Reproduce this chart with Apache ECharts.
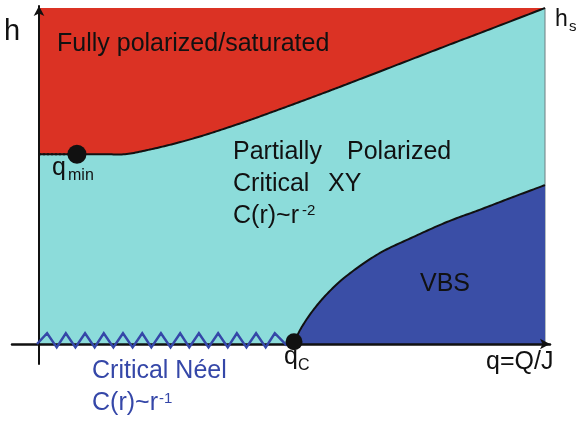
<!DOCTYPE html>
<html>
<head>
<meta charset="utf-8">
<script src="https://cdn.jsdelivr.net/npm/echarts@6/dist/echarts.min.js"></script>
<style>
  html, body { margin: 0; padding: 0; background: #fff; }
  #chart { width: 585px; height: 421px; }
</style>
</head>
<body>
<div id="chart"></div>
<script>
// Phase diagram in (q, h) units; h is scaled so that the saturation field h_s = 1.

// Saturation line separating fully polarized from partially polarized states
const saturationBoundary = [
  [0, 0.565], [0.121, 0.565], [0.170, 0.565], [0.2194, 0.5789], [0.2688, 0.5967],
  [0.3182, 0.6176], [0.3676, 0.6414], [0.4170, 0.6667], [0.4664, 0.6935],
  [0.5158, 0.7208], [0.5652, 0.7485], [0.6146, 0.7768], [0.6838, 0.8170],
  [0.7530, 0.8571], [0.8221, 0.8973], [0.8913, 0.9369], [1, 1]
];

// Boundary of the VBS phase, starting at q_c
const vbsBoundary = [
  [0.504, 0], [0.516, 0.042], [0.542, 0.101], [0.575, 0.158], [0.615, 0.211],
  [0.674, 0.271], [0.739, 0.318], [0.806, 0.363], [0.872, 0.400], [0.937, 0.4375],
  [1, 0.473]
];

// Special points
const qMinPoint = [0.075, 0.565];
const qCPoint = [0.504, 0.007];

// Critical Néel line along h = 0, drawn as a zigzag
const neelZigzag = [
  [-0.004, 0], [0.016, 0.032], [0.035, -0.010], [0.053, 0.032], [0.072, -0.010],
  [0.091, 0.032], [0.110, -0.010], [0.128, 0.032], [0.147, -0.010], [0.166, 0.032],
  [0.185, -0.010], [0.204, 0.032], [0.222, -0.010], [0.241, 0.032], [0.260, -0.010],
  [0.279, 0.032], [0.297, -0.010], [0.316, 0.032], [0.335, -0.010], [0.354, 0.032],
  [0.373, -0.010], [0.391, 0.032], [0.410, -0.010], [0.429, 0.032], [0.448, -0.010],
  [0.466, 0.032], [0.490, -0.005]
];

// Extent of the diagram
const qRange = [0, 1];
const hRange = [0, 1];

const COLORS = {
  partial: '#8CDCDA',
  saturated: '#DB3224',
  vbs: '#3A4EA6',
  neel: '#3547A8',
  ink: '#111111'
};
const FONT = '"Liberation Sans", Arial, sans-serif';

// Smooth pixel path through projected points (Catmull-Rom segments rendered as short chords)
function smoothPixels(pixels) {
  const out = [pixels[0]];
  const n = pixels.length;
  const STEPS = 14;
  for (let i = 0; i < n - 1; i++) {
    const p0 = pixels[Math.max(i - 1, 0)];
    const p1 = pixels[i];
    const p2 = pixels[i + 1];
    const p3 = pixels[Math.min(i + 2, n - 1)];
    const c1 = [p1[0] + (p2[0] - p0[0]) / 6, p1[1] + (p2[1] - p0[1]) / 6];
    const c2 = [p2[0] - (p3[0] - p1[0]) / 6, p2[1] - (p3[1] - p1[1]) / 6];
    for (let s = 1; s <= STEPS; s++) {
      const t = s / STEPS, u = 1 - t;
      const a = u * u * u, b = 3 * u * u * t, c = 3 * u * t * t, d = t * t * t;
      out.push([
        a * p1[0] + b * c1[0] + c * c2[0] + d * p2[0],
        a * p1[1] + b * c1[1] + c * c2[1] + d * p2[1]
      ]);
    }
  }
  return out;
}

// Region filled between a boundary curve and fixed corners, plus the curve stroke
function phaseSeries(name, curve, corners, fill, z) {
  return {
    type: 'custom',
    name: name,
    z: z,
    silent: true,
    data: [[0, 0]],
    renderItem: function (params, api) {
      const line = smoothPixels(curve.map(function (p) { return api.coord(p); }));
      const cornerPx = corners.map(function (p) { return api.coord(p); });
      return {
        type: 'group',
        children: [
          { type: 'polygon', shape: { points: line.concat(cornerPx) }, style: { fill: fill, stroke: null } },
          { type: 'polyline', z2: 5, shape: { points: line }, style: { fill: null, stroke: COLORS.ink, lineWidth: 2 } }
        ]
      };
    }
  };
}

const chart = echarts.init(document.getElementById('chart'), null, { renderer: 'canvas' });

const option = {
  animation: false,
  backgroundColor: '#ffffff',
  grid: { left: 12, right: 35, top: 6, bottom: 57, containLabel: false },
  xAxis: {
    type: 'value',
    min: -0.05336,
    max: 1.00988,
    z: 10,
    axisLine: {
      onZero: true,
      symbol: ['none', 'arrow'],
      symbolSize: [8, 10],
      lineStyle: { color: COLORS.ink, width: 2.5 }
    },
    axisTick: { show: false },
    axisLabel: { show: false },
    splitLine: { show: false }
  },
  yAxis: {
    type: 'value',
    min: -0.05952,
    max: 1.00595,
    z: 10,
    axisLine: {
      onZero: true,
      symbol: ['none', 'arrow'],
      symbolSize: [8, 10],
      lineStyle: { color: COLORS.ink, width: 2 }
    },
    axisTick: { show: false },
    axisLabel: { show: false },
    splitLine: { show: false }
  },
  series: [
    // Partially polarized background
    {
      type: 'custom',
      name: 'partial',
      z: 1,
      silent: true,
      data: [[0, 0]],
      renderItem: function (params, api) {
        const pts = [[qRange[0], hRange[0]], [qRange[1], hRange[0]], [qRange[1], hRange[1]], [qRange[0], hRange[1]]]
          .map(function (p) { return api.coord(p); });
        return { type: 'polygon', shape: { points: pts }, style: { fill: COLORS.partial, stroke: null } };
      }
    },
    {
      type: 'line', name: 'right edge', z: 1.5, silent: true, symbol: 'none',
      data: [[qRange[1], hRange[0]], [qRange[1], hRange[1]]],
      lineStyle: { color: '#6f7f80', width: 1 }
    },
    // Fully polarized region above the saturation line
    phaseSeries('saturated', saturationBoundary, [[qRange[0], hRange[1]]], COLORS.saturated, 2),
    // VBS region below its boundary
    phaseSeries('vbs', vbsBoundary, [[qRange[1], hRange[0]]], COLORS.vbs, 2),
    {
      type: 'line', name: 'qmin guide', z: 4, silent: true, symbol: 'none',
      data: [[qRange[0], qMinPoint[1]], qMinPoint],
      lineStyle: { color: COLORS.ink, width: 2, type: [2, 2] }
    },
    {
      type: 'line', name: 'neel', z: 11, silent: true, symbol: 'none',
      data: neelZigzag,
      lineStyle: { color: COLORS.neel, width: 2.5, join: 'miter' }
    },
    {
      type: 'scatter', name: 'qmin', z: 12, silent: true,
      data: [qMinPoint], symbol: 'circle', symbolSize: 19,
      itemStyle: { color: COLORS.ink, opacity: 1 }
    },
    {
      type: 'scatter', name: 'qc', z: 12, silent: true,
      data: [qCPoint], symbol: 'circle', symbolSize: 17,
      itemStyle: { color: COLORS.ink, opacity: 1 }
    }
  ],
  graphic: [
    { type: 'text', x: 4, y: 32, z: 20, style: { text: 'h', font: '29px ' + FONT, fill: COLORS.ink, verticalAlign: 'middle' } },
    { type: 'text', x: 57, y: 44, z: 20, style: { text: 'Fully polarized/saturated', font: '25px ' + FONT, fill: COLORS.ink, verticalAlign: 'middle' } },
    { type: 'text', x: 555, y: 20, z: 20, style: { text: 'h', font: '23px ' + FONT, fill: COLORS.ink, verticalAlign: 'middle' } },
    { type: 'text', x: 569, y: 27, z: 20, style: { text: 's', font: '15px ' + FONT, fill: COLORS.ink, verticalAlign: 'middle' } },
    { type: 'text', x: 52, y: 168, z: 20, style: { text: 'q', font: '25px ' + FONT, fill: COLORS.ink, verticalAlign: 'middle' } },
    { type: 'text', x: 68, y: 176, z: 20, style: { text: 'min', font: '16px ' + FONT, fill: COLORS.ink, verticalAlign: 'middle' } },
    { type: 'text', x: 233, y: 152, z: 20, style: { text: 'Partially', font: '25px ' + FONT, fill: COLORS.ink, verticalAlign: 'middle' } },
    { type: 'text', x: 347, y: 152, z: 20, style: { text: 'Polarized', font: '25px ' + FONT, fill: COLORS.ink, verticalAlign: 'middle' } },
    { type: 'text', x: 233, y: 184, z: 20, style: { text: 'Critical', font: '25px ' + FONT, fill: COLORS.ink, verticalAlign: 'middle' } },
    { type: 'text', x: 328, y: 184, z: 20, style: { text: 'XY', font: '25px ' + FONT, fill: COLORS.ink, verticalAlign: 'middle' } },
    { type: 'text', x: 233, y: 216, z: 20, style: { text: 'C(r)~r', font: '25px ' + FONT, fill: COLORS.ink, verticalAlign: 'middle' } },
    { type: 'text', x: 302, y: 211, z: 20, style: { text: '-2', font: '15px ' + FONT, fill: COLORS.ink, verticalAlign: 'middle' } },
    { type: 'text', x: 420, y: 284, z: 20, style: { text: 'VBS', font: '25px ' + FONT, fill: COLORS.ink, verticalAlign: 'middle' } },
    { type: 'text', x: 284, y: 357, z: 20, style: { text: 'q', font: '25px ' + FONT, fill: COLORS.ink, verticalAlign: 'middle' } },
    { type: 'text', x: 298, y: 366, z: 20, style: { text: 'C', font: '16px ' + FONT, fill: COLORS.ink, verticalAlign: 'middle' } },
    { type: 'text', x: 486, y: 362, z: 20, style: { text: 'q=Q/J', font: '25px ' + FONT, fill: COLORS.ink, verticalAlign: 'middle' } },
    { type: 'text', x: 92, y: 371, z: 20, style: { text: 'Critical Néel', font: '25px ' + FONT, fill: COLORS.neel, verticalAlign: 'middle' } },
    { type: 'text', x: 92, y: 403, z: 20, style: { text: 'C(r)~r', font: '25px ' + FONT, fill: COLORS.neel, verticalAlign: 'middle' } },
    { type: 'text', x: 159, y: 399, z: 20, style: { text: '-1', font: '15px ' + FONT, fill: COLORS.neel, verticalAlign: 'middle' } }
  ]
};

chart.setOption(option);
</script>
</body>
</html>
